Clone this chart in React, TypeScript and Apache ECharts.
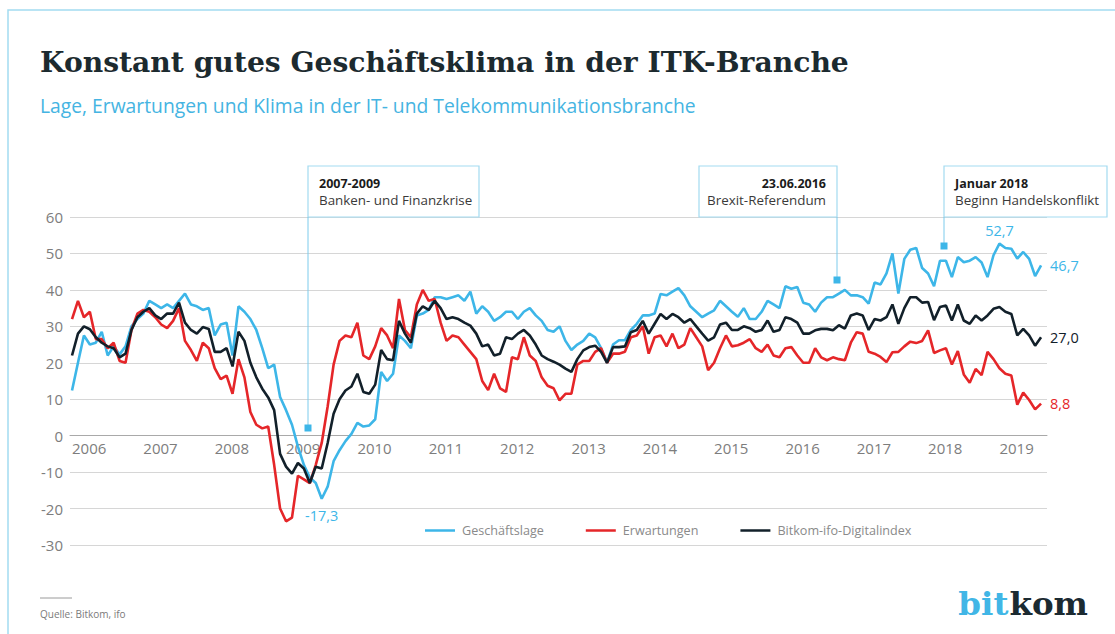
import React, { useEffect, useRef } from "react";
import * as echarts from "echarts";

const years = ["2006", "2007", "2008", "2009", "2010", "2011", "2012", "2013", "2014", "2015", "2016", "2017", "2018", "2019"];

// Monthly values from January 2006
const geschaeftslage = [
  12.4, 20, 27.5, 25, 25.5, 28.5, 22, 24.5, 22.3, 24.5, 30, 32,
  33.5, 37, 36, 35, 36, 35, 37, 39, 36, 35.5, 34.5, 35,
  27.5, 30.5, 31, 22, 35.5, 34, 32, 29, 24, 18.5, 19.5, 10.6,
  7, 3, -3, -8, -11.5, -13, -17.3, -14, -7, -4, -1.5, 0.5,
  3.5, 2.5, 2.8, 4.5, 17.5, 15, 17, 27.5, 26, 24, 33, 33.5,
  34.5, 38, 38, 37.5, 38, 38.5, 37, 39.5, 33.5, 35.5, 34, 31.5,
  32.5, 34, 34, 32, 34, 35, 33, 31.5, 29, 28.5, 30, 26,
  23.5, 25, 26, 28, 27, 24, 20, 25, 26.2, 26.2, 29, 30.7,
  33, 33, 33.5, 38.9, 38.5, 39.5, 40.5, 38.5, 35.5, 34, 32.5, 33.5,
  34.4, 37, 35.5, 34, 32.6, 35, 32, 32, 34, 37, 36, 35,
  41, 40.3, 40.8, 36.5, 36, 34, 36.5, 38, 38, 39, 40, 38.5,
  38.5, 38, 36.2, 42, 41.5, 44.5, 50, 39, 48.5, 51, 51.5, 46,
  44.5, 41, 48, 48, 43.5, 49, 47.6, 48, 49, 47.5, 43.5, 49.5,
  52.7, 51.5, 51.3, 48.6, 50.4, 48.5, 43.8, 46.7,
];

const erwartungen = [
  32, 37, 32.5, 34, 26.5, 26.5, 24, 25.5, 20.5, 20, 29, 33.5,
  34.5, 34, 32.5, 30.5, 29.5, 31.5, 35, 26, 23.5, 20.5, 25.5, 24,
  18.5, 15.5, 16.5, 11.5, 21, 16, 6.5, 3, 2, 2.5, -8, -20,
  -23.5, -22.5, -11, -12, -13, -8, -2, 8, 19.5, 26, 27.5, 27,
  31, 22, 21, 24.5, 29.5, 27.5, 24, 37.5, 29, 27, 36, 40,
  37, 37.5, 31, 26, 27.5, 27, 25, 23, 21, 15, 12.5, 17,
  13, 12, 21.5, 21, 27, 22, 20.5, 16, 13.7, 13, 9.7, 11.5,
  11.5, 19.5, 20.5, 20.5, 23, 24, 20, 22.5, 22.5, 23, 27, 27.5,
  30, 22.5, 27, 27.5, 24.5, 28, 24, 25, 29.5, 27, 24.5, 18,
  20, 24, 27.5, 24.5, 24.8, 25.5, 26.5, 24, 23, 25, 22, 21.5,
  24, 24.3, 22, 20, 20, 24, 21.5, 20.7, 21.5, 21, 20.7, 25.5,
  28.4, 28, 23, 22.5, 21.6, 20.2, 22.9, 23, 24.5, 25.8, 25.4, 26,
  28.9, 22.7, 23.4, 24, 19.5, 23.2, 16.8, 14.5, 18.3, 16.6, 23, 21,
  18.5, 17, 16.5, 8.5, 11.8, 9.8, 7.2, 8.8,
];

const digitalindex = [
  22, 28, 30, 29.2, 27, 25.5, 24.5, 24, 21.5, 22.5, 29, 32.5,
  34, 35, 33, 32, 33.5, 33.5, 36.5, 31, 29, 28, 29.8, 29.3,
  23, 23, 24, 19, 28.5, 26, 20, 16, 12.9, 10.5, 7, -5,
  -8.5, -10.4, -7.5, -9, -13, -8.5, -9, -2, 6, 10, 12.4, 13.5,
  17, 12, 11.5, 14, 23.5, 21, 20.7, 31.5, 28, 25.5, 33.5, 35.5,
  34.5, 37, 35, 32, 32.5, 32, 31, 30.2, 28, 24.5, 25, 22,
  22.5, 27, 26.5, 28, 29, 27.5, 25, 22, 21, 20.3, 19.5, 18.4,
  17.5, 21, 23.4, 24.3, 24.7, 23, 20, 24.3, 24.3, 24.5, 28.4, 29,
  31.5, 28, 30.7, 33.4, 32, 33.4, 32.5, 31, 32, 30, 28, 26.1,
  27, 30.5, 31, 29, 29, 30, 29.5, 28.5, 29, 31.6, 28.5, 29,
  32.5, 32, 31, 28, 28, 28.9, 29.3, 29.3, 28.9, 30.3, 29.4, 33,
  33.5, 33, 29, 32, 31.6, 32.5, 36, 30.7, 35, 38, 38, 36.5,
  36.7, 31.7, 35.3, 35.7, 31.6, 36, 31.6, 30.7, 33, 31.6, 33, 34.8,
  35.3, 34, 33.4, 27.5, 29.3, 27.5, 24.7, 27,
];

const seriesNames = ["Geschäftslage", "Erwartungen", "Bitkom-ifo-Digitalindex"];

const BLUE = "#3db6e8";
const RED = "#e52629";
const DARK = "#12202a";
const GRAY = "#7d7d7d";
const FRAME = "#a3dbf1";
const SANS = '"Open Sans", "Noto Sans", sans-serif';
const SERIF = '"DejaVu Serif", serif';

const GRID_TOP = 217;
const GRID_BOTTOM_Y = 545;
const Y_MIN = -30;
const Y_MAX = 60;

function fmt(v: number) {
  return v.toFixed(1).replace(".", ",");
}

function toPairs(arr: number[]) {
  return arr.map((v, i) => [i, v]);
}

function measure(text: string, font: string) {
  const c = document.createElement("canvas").getContext("2d");
  if (!c) return text.length * 20;
  c.font = font;
  return c.measureText(text).width;
}

function annotation(x: number, w: number, title: string, sub: string, align: "left" | "right", lineX: number, squareY: number) {
  const tx = align === "left" ? x + 11 : x + w - 11;
  return [
    { type: "rect", z: 50, shape: { x, y: 166, width: w, height: 51 }, style: { fill: "#fff", stroke: FRAME, lineWidth: 1.2 } },
    { type: "line", z: 51, shape: { x1: lineX, y1: 217, x2: lineX, y2: squareY }, style: { stroke: "#7ccbec", lineWidth: 1 } },
    { type: "rect", z: 52, shape: { x: lineX - 3.5, y: squareY - 3.5, width: 7, height: 7 }, style: { fill: BLUE } },
    { type: "text", z: 53, x: tx, y: 183, style: { text: title, fontFamily: SANS, fontWeight: "bold", fontSize: 12.5, fill: "#1b1b1b", textAlign: align, textVerticalAlign: "middle" } },
    { type: "text", z: 53, x: tx, y: 200, style: { text: sub, fontFamily: SANS, fontSize: 13.4, fill: "#3a3a3a", textAlign: align, textVerticalAlign: "middle" } },
  ];
}

export default function App() {
  const ref = useRef<HTMLDivElement>(null);

  useEffect(() => {
    const chart = echarts.init(ref.current as HTMLDivElement, null, { renderer: "svg" });

    let peakIdx = 0;
    geschaeftslage.forEach((v, i) => { if (v > geschaeftslage[peakIdx]) peakIdx = i; });
    let minIdx = 0;
    geschaeftslage.forEach((v, i) => { if (v < geschaeftslage[minIdx]) minIdx = i; });

    const zeroY = GRID_TOP + ((Y_MAX - 0) / (Y_MAX - Y_MIN)) * (GRID_BOTTOM_Y - GRID_TOP);
    const xAxisOffset = -(GRID_BOTTOM_Y - zeroY);

    const logoSize = 32.5;
    const logoFont = `bold ${logoSize}px "DejaVu Serif"`;
    const komW = measure("kom", logoFont);
    const logoRight = 1088;

    const endLabel = (color: string) => ({
      show: true,
      formatter: (p: any) => fmt(p.value[1]),
      color,
      fontFamily: SANS,
      fontSize: 14.5,
      distance: 9,
    });

    const option: any = {
      animation: false,
      backgroundColor: "#ffffff",
      grid: { left: 70, right: 68, top: GRID_TOP, bottom: 634 - GRID_BOTTOM_Y, containLabel: false },
      legend: {
        left: 420,
        top: 519,
        icon: "rect",
        itemWidth: 30,
        itemHeight: 2.5,
        itemGap: 42,
        data: seriesNames,
        textStyle: { color: "#8a8a8a", fontFamily: SANS, fontSize: 12.6, padding: [0, 0, 0, 2] },
      },
      xAxis: {
        type: "value",
        min: -0.34,
        max: 164,
        offset: xAxisOffset,
        axisLine: { show: true, onZero: false, lineStyle: { color: "#a9a9a9", width: 1 } },
        axisTick: { show: false },
        splitLine: { show: false },
        axisLabel: {
          customValues: years.map((_, i) => i * 12),
          formatter: (v: number) => years[Math.round(v / 12)] ?? "",
          align: "left",
          color: GRAY,
          fontFamily: SANS,
          fontSize: 15,
          margin: 5,
        },
      },
      yAxis: {
        type: "value",
        min: Y_MIN,
        max: Y_MAX,
        interval: 10,
        axisLine: { show: false },
        axisTick: { show: false },
        splitLine: { lineStyle: { color: "#d6d6d6", width: 1 } },
        axisLabel: { color: GRAY, fontFamily: SANS, fontSize: 15, margin: 7 },
      },
      series: [
        {
          name: seriesNames[0],
          type: "line",
          symbol: "none",
          data: toPairs(geschaeftslage),
          lineStyle: { color: BLUE, width: 2.6 },
          itemStyle: { color: BLUE },
          z: 2,
          endLabel: endLabel(BLUE),
          markPoint: {
            symbol: "circle",
            symbolSize: 0,
            itemStyle: { color: "transparent" },
            data: [
              { coord: [peakIdx, geschaeftslage[peakIdx]], value: fmt(geschaeftslage[peakIdx]), label: { position: "top", distance: 6 } },
              { coord: [minIdx, geschaeftslage[minIdx]], value: fmt(geschaeftslage[minIdx]), label: { position: "bottom", distance: 9 } },
            ],
            label: { show: true, color: BLUE, fontFamily: SANS, fontSize: 14.5, formatter: (p: any) => p.value },
          },
        },
        {
          name: seriesNames[1],
          type: "line",
          symbol: "none",
          data: toPairs(erwartungen),
          lineStyle: { color: RED, width: 2.6 },
          itemStyle: { color: RED },
          z: 3,
          endLabel: endLabel(RED),
        },
        {
          name: seriesNames[2],
          type: "line",
          symbol: "none",
          data: toPairs(digitalindex),
          lineStyle: { color: DARK, width: 2.6 },
          itemStyle: { color: DARK },
          z: 4,
          endLabel: endLabel(DARK),
        },
      ],
      graphic: [
        { type: "rect", z: 0, silent: true, shape: { x: 8, y: 10, width: 1400, height: 900 }, style: { fill: "none", stroke: FRAME, lineWidth: 1.5 } },
        { type: "text", x: 40, y: 62, style: { text: "Konstant gutes Geschäftsklima in der ITK-Branche", fontFamily: SERIF, fontWeight: "bold", fontSize: 28.2, fill: "#1c2a2f", textVerticalAlign: "middle" } },
        { type: "text", x: 40, y: 105, style: { text: "Lage, Erwartungen und Klima in der IT- und Telekommunikationsbranche", fontFamily: SANS, fontSize: 19.3, fill: "#45b4e2", textVerticalAlign: "middle" } },
        ...annotation(308, 171, "2007-2009", "Banken- und Finanzkrise", "left", 308, 428),
        ...annotation(699, 138, "23.06.2016", "Brexit-Referendum", "right", 837, 280),
        ...annotation(944, 163, "Januar 2018", "Beginn Handelskonflikt", "left", 944, 246),
        { type: "line", shape: { x1: 40, y1: 598, x2: 72, y2: 598 }, style: { stroke: "#9a9a9a", lineWidth: 1 } },
        { type: "text", x: 40, y: 614, style: { text: "Quelle: Bitkom, ifo", fontFamily: SANS, fontSize: 10, fill: "#7a7a7a", textVerticalAlign: "middle" } },
        { type: "text", x: logoRight, y: 603, style: { text: "kom", fontFamily: SERIF, fontWeight: "bold", fontSize: logoSize, fill: "#1b2a31", textAlign: "right", textVerticalAlign: "middle" } },
        { type: "text", x: logoRight - komW - 1, y: 603, style: { text: "bit", fontFamily: SERIF, fontWeight: "bold", fontSize: logoSize, fill: "#41b6e6", textAlign: "right", textVerticalAlign: "middle" } },
      ],
    };

    chart.setOption(option);
    return () => chart.dispose();
  }, []);

  return (
    <div
      ref={ref}
      style={{ position: "fixed", left: 0, top: 0, width: 1115, height: 634, background: "#fff" }}
    />
  );
}
